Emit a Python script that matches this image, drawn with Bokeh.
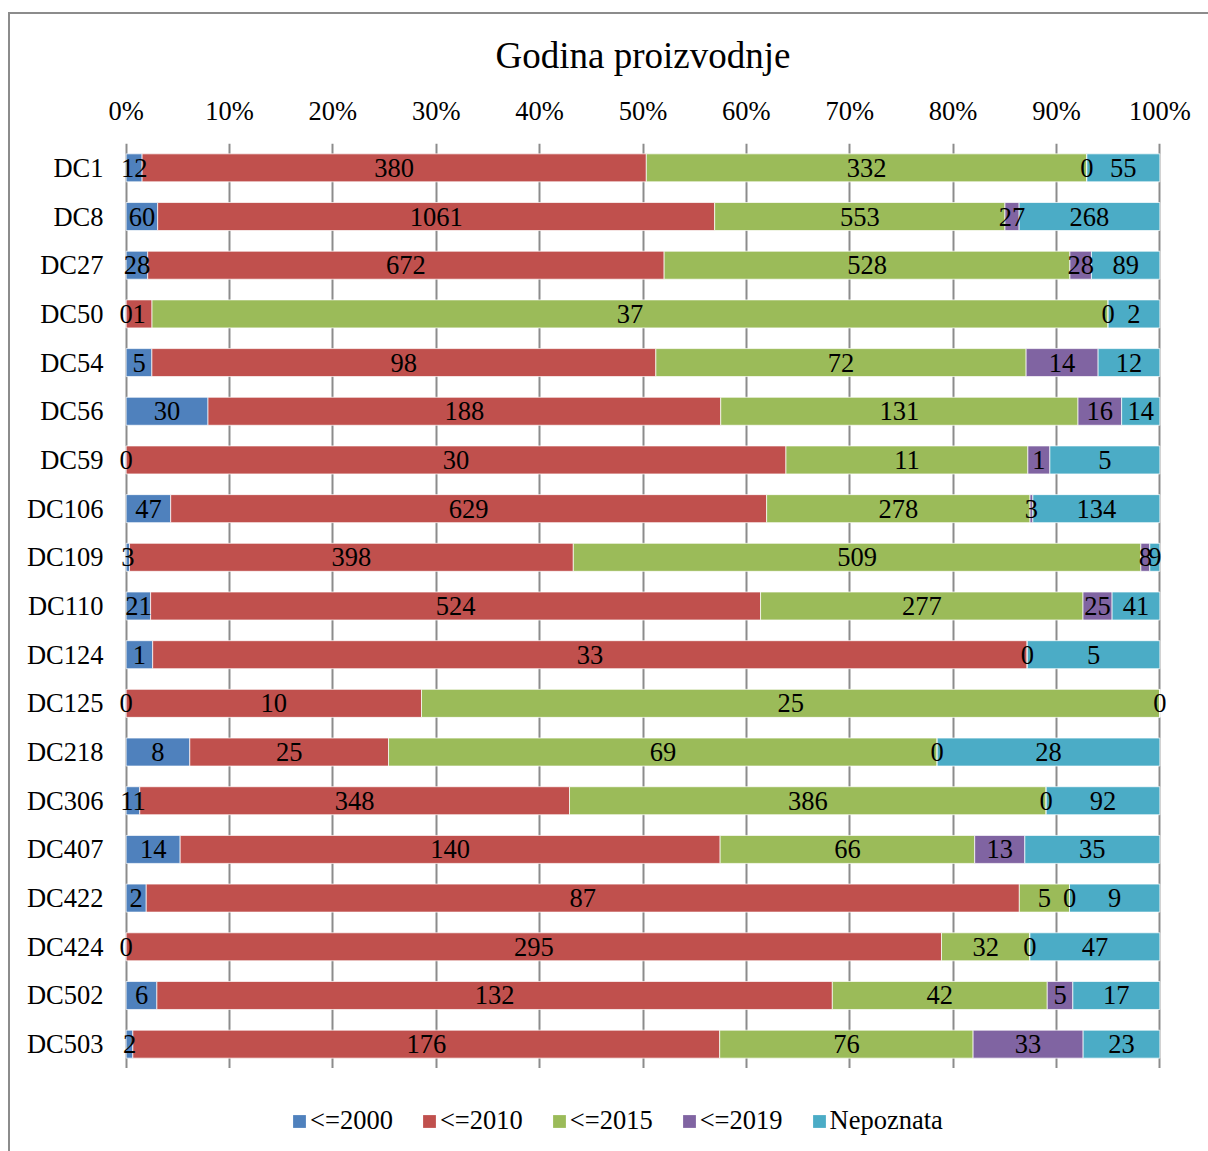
from bokeh.plotting import figure
from bokeh.layouts import column
from bokeh.models import (ColumnDataSource, FactorRange, FixedTicker, Legend, LegendItem, Title,
                          LabelSet, Range1d)
from bokeh.embed import file_html
from bokeh.resources import INLINE
from bokeh.core.properties import value

categories = ["DC1", "DC8", "DC27", "DC50", "DC54", "DC56", "DC59", "DC106", "DC109", "DC110",
              "DC124", "DC125", "DC218", "DC306", "DC407", "DC422", "DC424", "DC502", "DC503"]
series_names = ["<=2000", "<=2010", "<=2015", "<=2019", "Nepoznata"]
s2000 = [12, 60, 28, 0, 5, 30, 0, 47, 3, 21, 1, 0, 8, 11, 14, 2, 0, 6, 2]
s2010 = [380, 1061, 672, 1, 98, 188, 30, 629, 398, 524, 33, 10, 25, 348, 140, 87, 295, 132, 176]
s2015 = [332, 553, 528, 37, 72, 131, 11, 278, 509, 277, 0, 25, 69, 386, 66, 5, 32, 42, 76]
s2019 = [0, 27, 28, 0, 14, 16, 1, 3, 8, 25, None, 0, 0, 0, 13, 0, 0, 5, 33]
snepoz = [55, 268, 89, 2, 12, 14, 5, 134, 9, 41, 5, None, 28, 92, 35, 9, 47, 17, 23]
colors = ["#4F81BD", "#C0504D", "#9BBB59", "#8064A2", "#4BACC6"]
tick_values = [0, 0.1, 0.2, 0.3, 0.4, 0.5, 0.6, 0.7, 0.8, 0.9, 1.0]
tick_labels = ["0%", "10%", "20%", "30%", "40%", "50%", "60%", "70%", "80%", "90%", "100%"]

FONT = "Liberation Serif"
FS = "26.5px"
series = [s2000, s2010, s2015, s2019, snepoz]

totals = [sum(v or 0 for v in vals) for vals in zip(*series)]

p = figure(y_range=FactorRange(factors=categories[::-1]),
           x_range=(-0.02, 1.02), width=1198, height=1054,
           output_backend="svg", toolbar_location=None, x_axis_location="above",
           min_border_left=95, min_border_right=28, min_border_top=129, min_border_bottom=0)
p.outline_line_color = None
p.y_range.range_padding = 0
p.y_range.factor_padding = 0

p.title = Title(text="Godina proizvodnje", align="center", text_font=FONT,
                text_font_size="37px", text_font_style="normal", text_color="black", standoff=34)

# legend strip below the chart (reuses the bar data; its one-factor range shows no bars)
lf = figure(width=1198, height=83, output_backend="svg", toolbar_location=None,
            y_range=FactorRange(factors=["legend"]), x_range=Range1d(0, 1),
            min_border_left=95, min_border_right=28, min_border_top=0, min_border_bottom=0)
lf.axis.visible = False
lf.grid.visible = False
lf.outline_line_color = None

left = [0.0] * len(categories)
items = []
for name, vals, col in zip(series_names, series, colors):
    v = [x or 0 for x in vals]
    fr = [a / t for a, t in zip(v, totals)]
    right = [l + f for l, f in zip(left, fr)]
    mid = [(l + r) / 2 for l, r in zip(left, right)]
    src = ColumnDataSource(dict(cat=categories, left=left, right=right, mid=mid,
                                lab=["" if x is None else str(x) for x in vals]))
    p.hbar(y="cat", left="left", right="right", height=0.575, source=src,
           fill_color=col, line_color="white", line_width=1, line_alpha=0.7)
    rr = lf.hbar(y="cat", left="left", right="right", height=0.5, source=src,
                 fill_color=col, line_color=None)
    items.append(LegendItem(label=name, renderers=[rr]))
    labels = LabelSet(x="mid", y="cat", text="lab", source=src, text_align="center",
                      text_baseline="middle", text_font=value(FONT), text_font_size=FS,
                      text_color="black")
    p.add_layout(labels)
    left = right

p.xgrid.ticker = FixedTicker(ticks=tick_values)
p.xgrid.grid_line_color = "#8c8c8c"
p.xgrid.grid_line_width = 2
p.ygrid.grid_line_color = None

xa = p.xaxis[0]
xa.ticker = FixedTicker(ticks=tick_values)
xa.major_label_overrides = {t: l for t, l in zip(tick_values, tick_labels)}
xa.axis_line_color = None
xa.major_tick_line_color = None
xa.major_tick_out = 0
xa.major_tick_in = 0
xa.minor_tick_line_color = None
xa.major_label_standoff = 18
xa.major_label_text_font = FONT
xa.major_label_text_font_size = FS
xa.major_label_text_color = "black"

ya = p.yaxis[0]
ya.axis_line_color = None
ya.major_tick_line_color = None
ya.major_tick_out = 0
ya.major_tick_in = 0
ya.minor_tick_line_color = None
ya.major_label_standoff = 2
ya.major_label_text_font = FONT
ya.major_label_text_font_size = FS
ya.major_label_text_color = "black"

legend = Legend(items=items, orientation="horizontal", location=(186, 15),
                label_text_font=FONT, label_text_font_size=FS, label_text_color="black",
                glyph_width=16, glyph_height=16, label_standoff=3, spacing=28,
                border_line_color=None, background_fill_alpha=0, margin=0, padding=0)
lf.add_layout(legend)

layout = column(p, lf, spacing=0, margin=(12, 0, 0, 8),
                styles={"border-left": "2px solid #8c8c8c", "border-top": "2px solid #8c8c8c"})

open("out.html", "w").write(file_html(layout, INLINE))
